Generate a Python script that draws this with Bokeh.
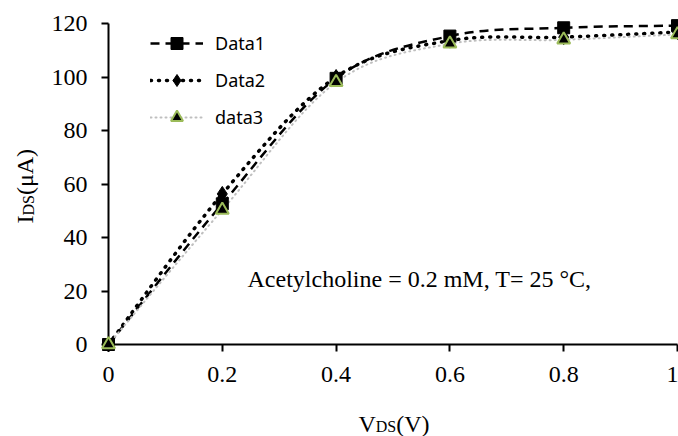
import numpy as np
from bokeh.plotting import figure
from bokeh.models import Range1d, FixedTicker, Legend, LegendItem, ColumnDataSource
from bokeh.core.properties import value
from bokeh.embed import file_html
from bokeh.resources import INLINE

# ---- data ----
v_ds = [0, 0.2, 0.4, 0.6, 0.8, 1.0]
data1 = [0, 52.6, 99.5, 115.3, 118.4, 119.2]
data2 = [0, 56.3, 100.0, 113.6, 114.9, 116.8]
data3 = [0, 50.3, 98.0, 112.4, 113.9, 115.9]
series_names = ["Data1", "Data2", "data3"]
x_ticks = [0, 0.2, 0.4, 0.6, 0.8, 1.0]
x_tick_labels = ["0", "0.2", "0.4", "0.6", "0.8", "1"]
y_ticks = [0, 20, 40, 60, 80, 100, 120]

# frame geometry (pixels)
FL, FR, FT, FB = 108, 677, 23, 344
W, H = 678, 436
BASE_SHIFT = 9  # text glyphs render this much below the requested alphabetic baseline


def px_x(px):
    return (px - FL) / (FR - FL) * (x_ticks[-1] - x_ticks[0]) + x_ticks[0]


def px_y(py):
    return (FB - py) / (FB - FT) * (y_ticks[-1] - y_ticks[0]) + y_ticks[0]


def smooth_source(xs, ys):
    """Bezier segments through the data points (Catmull-Rom style smoothing)."""
    x = np.asarray(xs, float)
    y = np.asarray(ys, float)
    n = len(x)
    xp = np.concatenate([[x[0]], x, [x[-1]]])
    yp = np.concatenate([[y[0]], y, [y[-1]]])
    return ColumnDataSource(dict(
        x0=x[:-1], y0=y[:-1], x1=x[1:], y1=y[1:],
        cx0=x[:-1] + (xp[2:n + 1] - xp[0:n - 1]) / 6,
        cy0=y[:-1] + (yp[2:n + 1] - yp[0:n - 1]) / 6,
        cx1=x[1:] - (xp[3:n + 2] - xp[1:n]) / 6,
        cy1=y[1:] - (yp[3:n + 2] - yp[1:n]) / 6,
    ))


p = figure(width=W, height=H, output_backend="svg", toolbar_location=None,
           x_range=Range1d(x_ticks[0], x_ticks[-1]), y_range=Range1d(y_ticks[0], y_ticks[-1]),
           min_border_left=FL, min_border_right=W - FR, min_border_top=FT, min_border_bottom=H - FB)
p.title = None
p.outline_line_color = None
p.xgrid.visible = False
p.ygrid.visible = False
p.background_fill_color = "white"
p.border_fill_color = "white"

SERIF = "Liberation Serif"
for ax in (p.xaxis[0], p.yaxis[0]):
    ax.axis_line_color = "black"
    ax.axis_line_width = 2
    ax.major_tick_line_color = "black"
    ax.major_tick_line_width = 2
    ax.major_tick_out = 7
    ax.major_tick_in = 0
    ax.minor_tick_line_color = None
    ax.major_label_text_font = SERIF
    ax.major_label_text_font_size = "24px"
    ax.major_label_text_color = "black"
p.xaxis.major_label_standoff = 15
p.yaxis.major_label_standoff = 14

p.xaxis.ticker = FixedTicker(ticks=x_ticks)
p.xaxis.major_label_overrides = {t: lab for t, lab in zip(x_ticks, x_tick_labels)}
p.yaxis.ticker = FixedTicker(ticks=y_ticks)
p.yaxis.major_label_overrides = {t: str(t) for t in y_ticks}

bez_kw = dict(x0="x0", y0="y0", x1="x1", y1="y1", cx0="cx0", cy0="cy0", cx1="cx1", cy1="cy1")
b1 = p.bezier(source=smooth_source(v_ds, data1), line_color="black", line_width=2.5,
              line_dash="9 6", **bez_kw)
b2 = p.bezier(source=smooth_source(v_ds, data2), line_color="black", line_width=3.5,
              line_dash="1 7", line_cap="round", **bez_kw)
b3 = p.bezier(source=smooth_source(v_ds, data3), line_color="#BFBFBF", line_width=2,
              line_dash="1 4", line_cap="round", **bez_kw)

# markers on the overlay level so that the points at V=0 are not cut by the frame
s1 = p.scatter(v_ds, data1, marker="square", size=12, fill_color="black", line_color="black",
               level="overlay")
s2 = p.scatter(v_ds, data2, marker="diamond", size=15, fill_color="black", line_color="black",
               level="overlay")
s3 = p.scatter(v_ds, data3, marker="triangle", size=13, fill_color="black",
               line_color="#9BBB59", line_width=2, level="overlay")

legend = Legend(items=[LegendItem(label=series_names[0], renderers=[b1, s1]),
                       LegendItem(label=series_names[1], renderers=[b2, s2]),
                       LegendItem(label=series_names[2], renderers=[b3, s3])],
                location=(42, 212), glyph_width=53, glyph_height=30, label_height=30,
                spacing=7, padding=0, margin=0, label_standoff=12,
                label_text_font="Noto Sans", label_text_font_size="18px",
                label_text_color="black",
                background_fill_alpha=0, border_line_alpha=0)
p.add_layout(legend)


def add_text(px, py, text, size, angle=0.0, align="left"):
    """Text glyph whose baseline starts at picture pixel (px, py); overlay level (no clip)."""
    if angle:
        px -= BASE_SHIFT
    else:
        py -= BASE_SHIFT
    p.text(x=[px_x(px)], y=[px_y(py)], text=[text], angle=angle, text_align=align,
           text_baseline="alphabetic", text_font=value(SERIF), text_font_size=size,
           text_color="black", level="overlay")


# annotation inside the plot
add_text(419, 287, "Acetylcholine = 0.2 mM, T= 25 °C,", "24px", align="center")

# x axis title  V_DS(V)
add_text(358, 432, "V", "24px")
add_text(375.3, 435, "DS", "16px")
add_text(395.7, 432, "(V)", "24px")

# y axis title  I_DS(μA), rotated
add_text(33, 223, "I", "24px", angle=np.pi / 2)
add_text(37, 215, "DS", "16px", angle=np.pi / 2)
add_text(33, 194.6, "(μA)", "24px", angle=np.pi / 2)

open("out.html", "w").write(file_html(p, INLINE))
